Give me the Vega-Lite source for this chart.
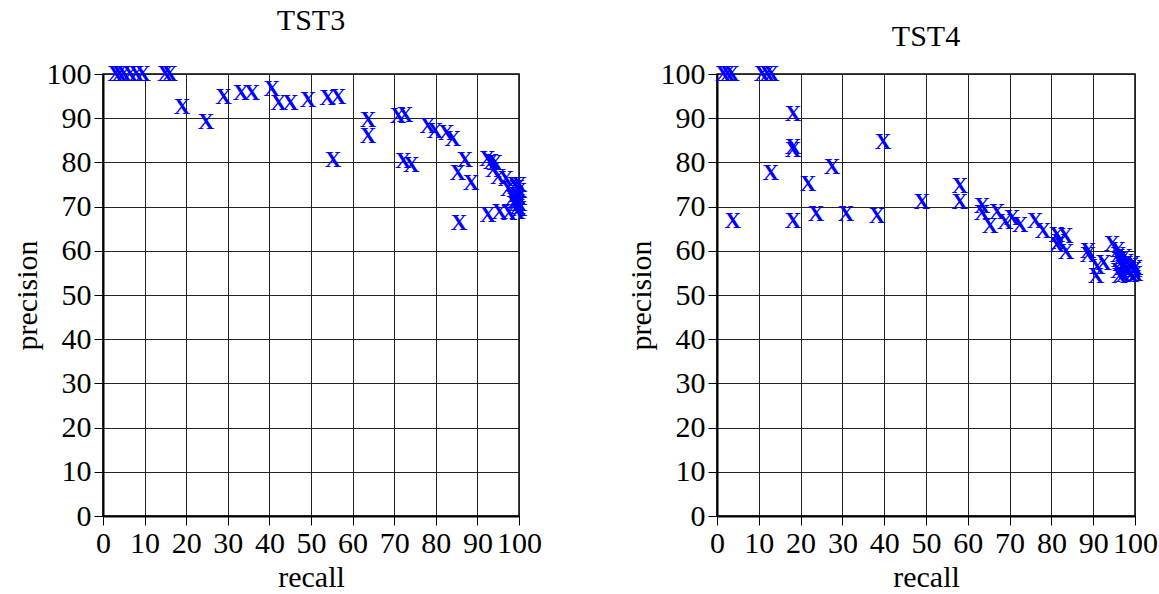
{
  "$schema": "https://vega.github.io/schema/vega-lite/v6.json",
  "background": "white",
  "padding": {"left": 11, "top": 5, "right": 5, "bottom": 5},
  "bounds": "flush",
  "spacing": 198,
  "config": {
    "font": "Liberation Serif",
    "view": {"stroke": "black", "strokeWidth": 1.5},
    "title": {"font": "Liberation Serif", "fontSize": 30, "fontWeight": "normal", "color": "black", "anchor": "middle"},
    "axis": {
      "values": [0, 5, 10, 15, 20, 25, 30, 35, 40, 45, 50, 55, 60, 65, 70, 75, 80, 85, 90, 95, 100],
      "labelExpr": "datum.value % 10 == 0 ? datum.label : ''",
      "labelFont": "Liberation Serif",
      "labelFontSize": 30,
      "labelColor": "black",
      "labelOverlap": false,
      "labelFlush": false,
      "labelPadding": 3,
      "tickColor": "black",
      "tickWidth": 1,
      "tickSize": {"condition": {"test": "datum.value % 10 != 0", "value": 6}, "value": 9},
      "grid": true,
      "gridColor": "#222222",
      "gridWidth": 1,
      "gridOpacity": {"condition": {"test": "datum.value % 10 != 0", "value": 0}, "value": 1},
      "domainColor": "black",
      "domainWidth": 2,
      "titleFont": "Liberation Serif",
      "titleFontSize": 30,
      "titleFontWeight": "normal",
      "titleColor": "black",
      "titlePadding": 4
    }
  },
  "datasets": {
    "tst3": [
      {"recall": 3, "precision": 100}, {"recall": 4, "precision": 100}, {"recall": 5, "precision": 100},
      {"recall": 6.5, "precision": 100}, {"recall": 8, "precision": 100}, {"recall": 9.5, "precision": 100},
      {"recall": 15, "precision": 100}, {"recall": 16, "precision": 100},
      {"recall": 19, "precision": 92.5}, {"recall": 24.8, "precision": 89.2}, {"recall": 29, "precision": 94.9},
      {"recall": 33.2, "precision": 95.6}, {"recall": 35.8, "precision": 95.8}, {"recall": 40.6, "precision": 96.6},
      {"recall": 42.2, "precision": 93.5}, {"recall": 45, "precision": 93.5}, {"recall": 49.3, "precision": 94.1},
      {"recall": 54, "precision": 94.6}, {"recall": 56.5, "precision": 94.7}, {"recall": 55.3, "precision": 80.6},
      {"recall": 63.7, "precision": 89.7}, {"recall": 63.7, "precision": 85.9}, {"recall": 70.9, "precision": 90.6},
      {"recall": 72.6, "precision": 90.7}, {"recall": 72.2, "precision": 80.4}, {"recall": 74.1, "precision": 79.5},
      {"recall": 78.1, "precision": 88.2}, {"recall": 79.8, "precision": 87.2}, {"recall": 82.5, "precision": 86.6},
      {"recall": 84.1, "precision": 85.2}, {"recall": 87, "precision": 80.6}, {"recall": 85.3, "precision": 77.6},
      {"recall": 88.5, "precision": 75.3}, {"recall": 85.6, "precision": 66.3}, {"recall": 92.4, "precision": 80.8},
      {"recall": 93.3, "precision": 80.2}, {"recall": 94.2, "precision": 79.8}, {"recall": 93.8, "precision": 78.3},
      {"recall": 95, "precision": 76.8}, {"recall": 96.8, "precision": 76.2}, {"recall": 97.4, "precision": 73.9},
      {"recall": 99.5, "precision": 74.3}, {"recall": 92.5, "precision": 68.1}, {"recall": 95.3, "precision": 68.8},
      {"recall": 97.6, "precision": 68.6}, {"recall": 99.6, "precision": 68.7}, {"recall": 99, "precision": 75},
      {"recall": 100, "precision": 73.5}, {"recall": 99.3, "precision": 72.6}, {"recall": 100, "precision": 72},
      {"recall": 99, "precision": 71.3}, {"recall": 100, "precision": 70.7}, {"recall": 99.6, "precision": 70},
      {"recall": 100, "precision": 69.5}, {"recall": 98.8, "precision": 70.5}, {"recall": 98.5, "precision": 72},
      {"recall": 100, "precision": 74.8}
    ],
    "tst4": [
      {"recall": 1.5, "precision": 100}, {"recall": 2.5, "precision": 100}, {"recall": 3.5, "precision": 100},
      {"recall": 10.8, "precision": 100}, {"recall": 12, "precision": 100}, {"recall": 13, "precision": 100},
      {"recall": 18.2, "precision": 90.9}, {"recall": 18.2, "precision": 83.5}, {"recall": 18.2, "precision": 82.8},
      {"recall": 39.7, "precision": 84.6}, {"recall": 12.9, "precision": 77.6}, {"recall": 27.5, "precision": 78.9},
      {"recall": 21.8, "precision": 75.1}, {"recall": 3.8, "precision": 66.7}, {"recall": 18.2, "precision": 66.7},
      {"recall": 23.7, "precision": 68.3}, {"recall": 30.9, "precision": 68.3}, {"recall": 38.3, "precision": 67.8},
      {"recall": 49, "precision": 71.1}, {"recall": 58.1, "precision": 74.6}, {"recall": 58.1, "precision": 71.1},
      {"recall": 63.4, "precision": 70.1}, {"recall": 63.4, "precision": 68.6}, {"recall": 67, "precision": 68.7},
      {"recall": 65.3, "precision": 65.6}, {"recall": 68.9, "precision": 66.5}, {"recall": 70.6, "precision": 67.4},
      {"recall": 72.5, "precision": 65.9}, {"recall": 76.1, "precision": 66.8}, {"recall": 78, "precision": 64.4},
      {"recall": 81.3, "precision": 63.6}, {"recall": 83.3, "precision": 63.4}, {"recall": 81.3, "precision": 61.2},
      {"recall": 81.8, "precision": 62.1}, {"recall": 83.5, "precision": 59.8}, {"recall": 88.8, "precision": 59.9},
      {"recall": 88.8, "precision": 59.1}, {"recall": 90.9, "precision": 56.3}, {"recall": 90.7, "precision": 54.2},
      {"recall": 92.5, "precision": 57.2}, {"recall": 94.5, "precision": 61.5}, {"recall": 95.9, "precision": 60.2},
      {"recall": 96, "precision": 59}, {"recall": 96.2, "precision": 58}, {"recall": 96.5, "precision": 57},
      {"recall": 97, "precision": 56}, {"recall": 96, "precision": 55.5}, {"recall": 97.2, "precision": 54.5},
      {"recall": 98, "precision": 56}, {"recall": 98.5, "precision": 55}, {"recall": 99, "precision": 56.5},
      {"recall": 99.8, "precision": 55.6}, {"recall": 100, "precision": 54.8}, {"recall": 99.5, "precision": 57},
      {"recall": 97.5, "precision": 58.5}, {"recall": 96.3, "precision": 54.2}, {"recall": 99, "precision": 54.5},
      {"recall": 98, "precision": 57.5}, {"recall": 100, "precision": 56.2}
    ]
  },
  "hconcat": [
    {
      "width": 416,
      "height": 442,
      "title": {"text": "TST3", "offset": 23},
      "data": {"name": "tst3"},
      "mark": {"type": "text", "text": "X", "color": "#0000ff", "font": "Liberation Serif", "fontSize": 23, "fontWeight": "bold", "align": "center", "baseline": "middle"},
      "encoding": {
        "x": {"field": "recall", "type": "quantitative", "scale": {"domain": [0, 100], "nice": false}, "axis": {"title": "recall", "labelFont": "Liberation Serif"}},
        "y": {"field": "precision", "type": "quantitative", "scale": {"domain": [0, 100], "nice": false}, "axis": {"title": "precision", "labelFont": "Liberation Serif"}}
      }
    },
    {
      "width": 418,
      "height": 442,
      "title": {"text": "TST4", "offset": 7},
      "data": {"name": "tst4"},
      "mark": {"type": "text", "text": "X", "color": "#0000ff", "font": "Liberation Serif", "fontSize": 23, "fontWeight": "bold", "align": "center", "baseline": "middle"},
      "encoding": {
        "x": {"field": "recall", "type": "quantitative", "scale": {"domain": [0, 100], "nice": false}, "axis": {"title": "recall", "labelFont": "Liberation Serif"}},
        "y": {"field": "precision", "type": "quantitative", "scale": {"domain": [0, 100], "nice": false}, "axis": {"title": "precision", "labelFont": "Liberation Serif"}}
      }
    }
  ]
}
